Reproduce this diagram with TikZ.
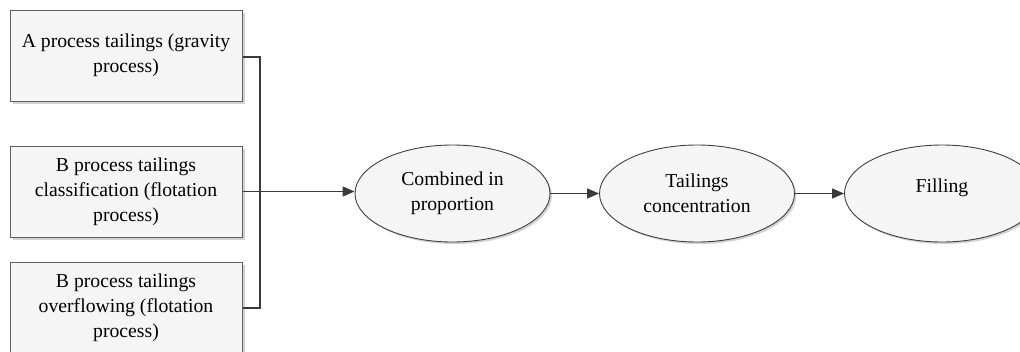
\documentclass[tikz,border=0pt]{standalone}
\usepackage{fontspec}
\setmainfont{Liberation Serif}
\usetikzlibrary{arrows.meta,shadows,calc,shapes.geometric}
\definecolor{boxfill}{HTML}{F5F5F5}
\definecolor{boxline}{HTML}{606060}
\definecolor{ellline}{HTML}{404040}
\definecolor{conn}{HTML}{3A3A3A}
\definecolor{shade}{HTML}{D2D2D2}
\tikzset{
  procbox/.style={draw=boxline, line width=1pt, fill=boxfill, minimum width=232pt, minimum height=91pt,
    inner sep=0pt, align=center, font=\fontsize{19.7}{25}\selectfont,
    drop shadow={shadow xshift=2.5pt, shadow yshift=-2.5pt, fill=shade, opacity=1}},
  procell/.style={draw=ellline, line width=0.9pt, fill=boxfill, ellipse, minimum width=195pt, minimum height=97pt,
    inner sep=0pt, align=center, font=\fontsize{19.7}{25}\selectfont,
    drop shadow={shadow xshift=2pt, shadow yshift=-2pt, fill=shade, opacity=1}},
  conline/.style={draw=conn, line width=1.3pt},
  conarrow/.style={conline, -{Triangle[length=12pt,width=10pt]}},
}
\begin{document}
\begin{tikzpicture}[x=1pt,y=-1pt]
\useasboundingbox (0,0) rectangle (1020,351);
\begin{scope}
\clip (0,0) rectangle (1020,351);
\node[procbox] (a) at (126,55.5) {A process tailings (gravity\\process)};
\node[procbox] (b1) at (126,191.5) {B process tailings\\classification (flotation\\process)};
\node[procbox] (b2) at (126,307.5) {B process tailings\\overflowing (flotation\\process)};
\node[procell] (e1) at (452.5,193.5) {Combined in\\proportion};
\node[procell] (e2) at (697,193.5) {Tailings\\concentration};
\node[procell] (e3) at (942,193.5) {};
\node[font=\fontsize{19.7}{25}\selectfont] (t3) at (942,188) {Filling};
\coordinate (ja) at (260,57);
\coordinate (jb) at (260,308);
\draw[conline] ($(a.east)+(0,1.5)$) -- (ja) -- (jb) -- ($(b2.east)+(0,0.5)$);
\draw[conarrow] (b1.east) -- (b1.east -| e1.west);
\draw[conarrow] (e1.east) -- (e2.west);
\draw[conarrow] (e2.east) -- (e3.west);
\end{scope}
\end{tikzpicture}
\end{document}
